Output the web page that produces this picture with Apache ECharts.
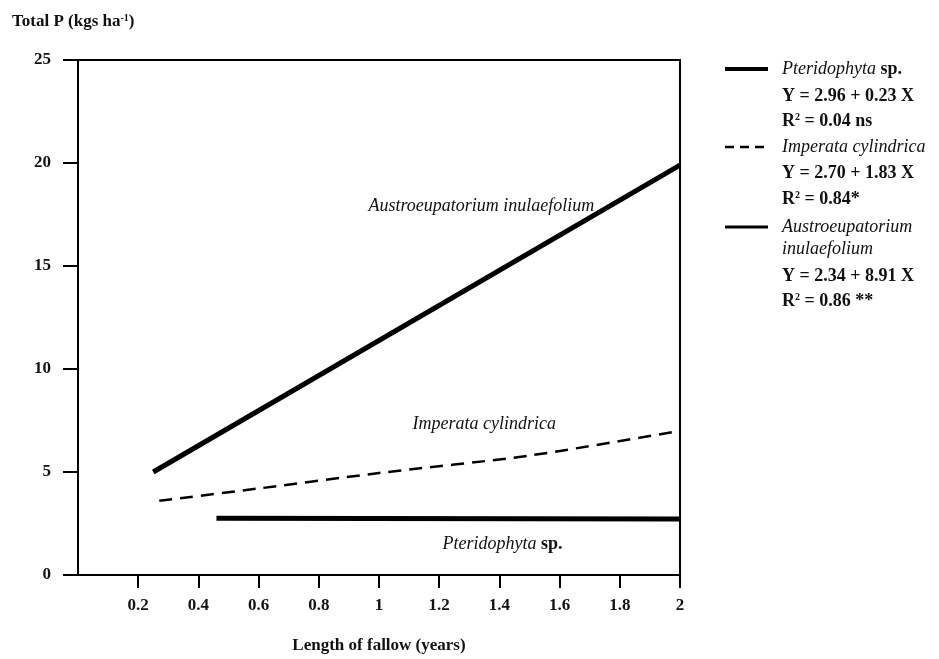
<!DOCTYPE html>
<html><head><meta charset="utf-8">
<script src="https://cdn.jsdelivr.net/npm/echarts@6/dist/echarts.min.js"></script>
<style>html,body{margin:0;padding:0;background:#fff}#c{width:939px;height:659px}</style>
</head><body><div id="c"></div>
<script>
// ---- data ----
const xTickValues = [0.2, 0.4, 0.6, 0.8, 1.0, 1.2, 1.4, 1.6, 1.8, 2.0];
const yTickValues = [0, 5, 10, 15, 20, 25];
const pteridoX = [0.46, 2.0];
const pteridoY = [2.75, 2.72];
const imperataX = [0.27, 0.6, 1.0, 1.5, 2.0];
const imperataY = [3.6, 4.2, 4.95, 5.8, 7.0];
const austroX = [0.25, 2.0];
const austroY = [5.0, 19.9];
const speciesNames = ['Pteridophyta', 'Imperata cylindrica', 'Austroeupatorium inulaefolium'];
const equations = ['Y = 2.96 + 0.23 X', 'Y = 2.70 + 1.83 X', 'Y = 2.34 + 8.91 X'];
const r2Values = ['0.04 ns', '0.84*', '0.86 **'];
const plotLabelText = ['Pteridophyta sp.', 'Imperata cylindrica', 'Austroeupatorium inulaefolium'];
const plotLabelX = [1.41, 1.35, 1.34];
const plotLabelY = [1.5, 7.3, 17.9];

const FONT = "'Liberation Serif', 'Times New Roman', serif";
const zip = (a, b) => a.map((v, i) => [v, b[i]]);

const chart = echarts.init(document.getElementById('c'), null, {renderer: 'canvas'});

const rich = {
  it: {fontFamily: FONT, fontSize: 18, fontStyle: 'italic', fontWeight: 'normal', fill: '#111'},
  b: {fontFamily: FONT, fontSize: 18, fontWeight: 'bold', fill: '#111'},
  t: {fontFamily: FONT, fontSize: 17, fontWeight: 'bold', fill: '#111'},
  sup: {fontFamily: FONT, fontSize: 10, fontWeight: 'bold', fill: '#111', verticalAlign: 'top', padding: [0, 0, 7, 0]}
};

function legendGraphics() {
  const g = [];
  const lx = 782;
  const rows = [
    {y: 69, t: '{it|' + speciesNames[0] + '}{b| sp.}'},
    {y: 96, t: '{b|' + equations[0] + '}'},
    {y: 121, t: '{b|R}{sup|2}{b| = ' + r2Values[0] + '}'},
    {y: 147, t: '{it|' + speciesNames[1] + '}'},
    {y: 173, t: '{b|' + equations[1] + '}'},
    {y: 199, t: '{b|R}{sup|2}{b| = ' + r2Values[1] + '}'},
    {y: 227, t: '{it|Austroeupatorium}'},
    {y: 249, t: '{it|inulaefolium}'},
    {y: 276, t: '{b|' + equations[2] + '}'},
    {y: 301, t: '{b|R}{sup|2}{b| = ' + r2Values[2] + '}'}
  ];
  rows.forEach(r => g.push({type: 'text', x: lx, y: r.y, style: {text: r.t, rich: rich, verticalAlign: 'middle', align: 'left'}}));
  g.push({type: 'line', shape: {x1: 725, y1: 69, x2: 768, y2: 69}, style: {stroke: '#000', lineWidth: 4}});
  g.push({type: 'line', shape: {x1: 725, y1: 147, x2: 768, y2: 147}, style: {stroke: '#000', lineWidth: 2.5, lineDash: [9, 6]}});
  g.push({type: 'line', shape: {x1: 725, y1: 227, x2: 768, y2: 227}, style: {stroke: '#000', lineWidth: 3}});
  g.push({type: 'text', x: 12, y: 22, style: {text: '{t|Total P (kgs ha}{sup|-1}{t|)}', rich: rich, verticalAlign: 'middle'}});
  return g;
}

const option = {
  animation: false,
  backgroundColor: '#fff',
  grid: {left: 78, right: 259, top: 60, bottom: 83, show: true, borderColor: '#000', borderWidth: 2, backgroundColor: 'transparent'},
  xAxis: {
    type: 'value', min: 0, max: 2, interval: 0.2,
    axisLine: {show: true, lineStyle: {color: '#000', width: 2}},
    axisTick: {show: true, length: 13, lineStyle: {color: '#000', width: 2}, customValues: xTickValues},
    axisLabel: {customValues: xTickValues, margin: 22, fontFamily: FONT, fontSize: 17, fontWeight: 'bold', color: '#111',
      formatter: v => (Math.round(v * 10) / 10).toString()},
    splitLine: {show: false},
    name: 'Length of fallow (years)', nameLocation: 'middle', nameGap: 62,
    nameTextStyle: {fontFamily: FONT, fontSize: 17, fontWeight: 'bold', color: '#111'}
  },
  yAxis: {
    type: 'value', min: 0, max: 25, interval: 5,
    axisLine: {show: true, lineStyle: {color: '#000', width: 2}},
    axisTick: {show: true, length: 15, lineStyle: {color: '#000', width: 2}},
    axisLabel: {margin: 27, fontFamily: FONT, fontSize: 17, fontWeight: 'bold', color: '#111'},
    splitLine: {show: false}
  },
  series: [
    {name: speciesNames[0], type: 'line', data: zip(pteridoX, pteridoY), symbol: 'none', lineStyle: {color: '#000', width: 5}},
    {name: speciesNames[1], type: 'line', data: zip(imperataX, imperataY), symbol: 'none', smooth: 0.3, lineStyle: {color: '#000', width: 2.5, type: [13, 8]}},
    {name: speciesNames[2], type: 'line', data: zip(austroX, austroY), symbol: 'none', lineStyle: {color: '#000', width: 5}}
  ],
  graphic: legendGraphics()
};
chart.setOption(option);

const labelG = plotLabelText.map((t, i) => {
  const p = chart.convertToPixel({gridIndex: 0}, [plotLabelX[i], plotLabelY[i]]);
  const txt = i === 0 ? '{it|Pteridophyta}{b| sp.}' : '{it|' + t + '}';
  return {type: 'text', x: p[0], y: p[1], style: {text: txt, rich: rich, align: 'center', verticalAlign: 'middle'}};
});
chart.setOption({graphic: legendGraphics().concat(labelG)}, {replaceMerge: ['graphic']});
</script>
</body></html>
